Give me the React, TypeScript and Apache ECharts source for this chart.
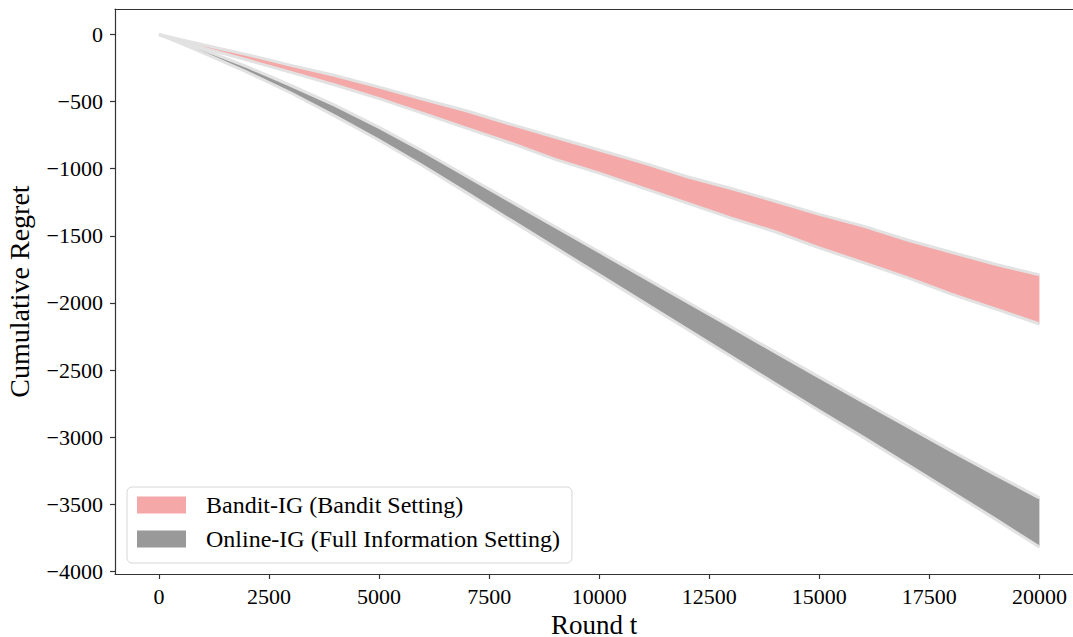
import React, { useEffect, useRef } from "react";
import * as echarts from "echarts";

// Round t (x values)
const rounds = [0, 500, 1000, 2000, 3000, 4000, 5000, 6000, 7000, 8000, 9000, 10000, 11000, 12000, 13000, 14000, 15000, 16000, 17000, 18000, 19000, 20000];

// Bandit-IG band (upper / lower edges of cumulative regret)
const banditUpper = [0, -39, -76, -150, -230, -305, -392, -482, -570, -670, -766, -861, -957, -1060, -1148, -1243, -1340, -1428, -1531, -1623, -1712, -1791];
const banditLower = [0, -51, -100, -190, -282, -376, -478, -588, -699, -810, -930, -1033, -1145, -1256, -1368, -1470, -1590, -1700, -1811, -1935, -2044, -2157];

// Online-IG band (upper / lower edges)
const onlineUpper = [0, -54, -113, -240, -380, -528, -692, -870, -1058, -1245, -1432, -1619, -1806, -1993, -2180, -2367, -2553, -2738, -2920, -3103, -3279, -3453];
const onlineLower = [0, -66, -137, -280, -436, -608, -788, -980, -1182, -1385, -1588, -1791, -1994, -2197, -2400, -2603, -2803, -3002, -3204, -3407, -3611, -3819];

const xTicks = [0, 2500, 5000, 7500, 10000, 12500, 15000, 17500, 20000];
const yTicks = [0, -500, -1000, -1500, -2000, -2500, -3000, -3500, -4000];

const BANDIT = "Bandit-IG (Bandit Setting)";
const ONLINE = "Online-IG (Full Information Setting)";
const PINK = "#f4a8a7";
const GRAY = "#999999";
const EDGE = "#e2e2e2";
const AXIS = "#333333";
const FONT = "Liberation Serif";

export default function App() {
  const ref = useRef<HTMLDivElement>(null);
  useEffect(() => {
    const chart = echarts.init(ref.current!, null, { renderer: "svg" });
    const band = (name: string, up: number[], lo: number[], color: string) => ({
      name,
      type: "custom",
      data: rounds.map((t, i) => [t, up[i], lo[i]]),
      encode: { x: 0, y: [1, 2] },
      itemStyle: { color },
      silent: true,
      clip: true,
      renderItem: (params: any, api: any) => {
        if (params.dataIndex !== 0) return null;
        const top = rounds.map((t, i) => api.coord([t, up[i]]));
        const bot = rounds.map((t, i) => api.coord([t, lo[i]]));
        return {
          type: "group",
          children: [
            {
              type: "polygon",
              shape: { points: [...top, ...bot.slice().reverse()] },
              style: { fill: color, stroke: null },
            },
            {
              type: "polyline",
              shape: { points: top },
              style: { stroke: EDGE, lineWidth: 3, fill: null },
            },
            {
              type: "polyline",
              shape: { points: bot },
              style: { stroke: EDGE, lineWidth: 3, fill: null },
            },
          ],
        };
      },
    });
    chart.setOption({
      animation: false,
      backgroundColor: "#fff",
      textStyle: { fontFamily: FONT },
      grid: { left: 115, top: 9, right: 0, bottom: 63, containLabel: false, outerBoundsMode: "none" },
      xAxis: [
        {
          type: "value",
          min: -1000,
          max: 20763,
          interval: 500,
          name: "Round t",
          nameLocation: "middle",
          nameGap: 36,
          nameTextStyle: { fontFamily: FONT, fontSize: 27, color: "#000" },
          axisLine: { show: true, onZero: false, lineStyle: { color: AXIS, width: 1.2 } },
          axisTick: { show: true, length: 5, customValues: xTicks, lineStyle: { color: AXIS, width: 1.2 } },
          axisLabel: {
            fontFamily: FONT,
            fontSize: 22,
            color: "#000",
            margin: 11,
            hideOverlap: false,
            showMinLabel: false,
            showMaxLabel: false,
            formatter: (v: number) => (xTicks.indexOf(v) >= 0 ? String(v) : ""),
          },
          splitLine: { show: false },
        },
        {
          type: "value",
          position: "top",
          min: -1000,
          max: 20763,
          axisLine: { show: true, onZero: false, lineStyle: { color: AXIS, width: 1.2 } },
          axisTick: { show: false },
          axisLabel: { show: false },
          splitLine: { show: false },
        },
      ],
      yAxis: {
        type: "value",
        min: -4020,
        max: 190,
        interval: 20,
        name: "Cumulative Regret",
        nameLocation: "middle",
        nameGap: 82,
        nameTextStyle: { fontFamily: FONT, fontSize: 28, color: "#000" },
        axisLine: { show: true, onZero: false, lineStyle: { color: AXIS, width: 1.2 } },
        axisTick: { show: true, length: 5, customValues: yTicks, lineStyle: { color: AXIS, width: 1.2 } },
        axisLabel: {
          fontFamily: FONT,
          fontSize: 22,
          color: "#000",
          margin: 12,
          hideOverlap: false,
          showMinLabel: false,
          showMaxLabel: false,
          formatter: (v: number) => (yTicks.indexOf(v) >= 0 ? String(v).replace("-", "\u2212") : ""),
        },
        splitLine: { show: false },
      },
      legend: {
        orient: "vertical",
        left: 127,
        top: 487,
        data: [
          { name: BANDIT, icon: "rect", itemStyle: { color: PINK, borderWidth: 0 } },
          { name: ONLINE, icon: "rect", itemStyle: { color: GRAY, borderWidth: 0 } },
        ],
        itemWidth: 49,
        itemHeight: 17,
        itemGap: 10,
        padding: [6, 12, 12, 10],
        backgroundColor: "#ffffff",
        borderColor: "#d6d6d6",
        borderWidth: 1,
        borderRadius: 5,
        selectedMode: false,
        textStyle: { fontFamily: FONT, fontSize: 24, color: "#000", lineHeight: 24, padding: [0, 0, 0, 15] },
      },
      series: [band(BANDIT, banditUpper, banditLower, PINK), band(ONLINE, onlineUpper, onlineLower, GRAY)],
    });
    return () => chart.dispose();
  }, []);
  return <div ref={ref} style={{ position: "fixed", left: 0, top: 0, width: 1073, height: 637 }} />;
}
